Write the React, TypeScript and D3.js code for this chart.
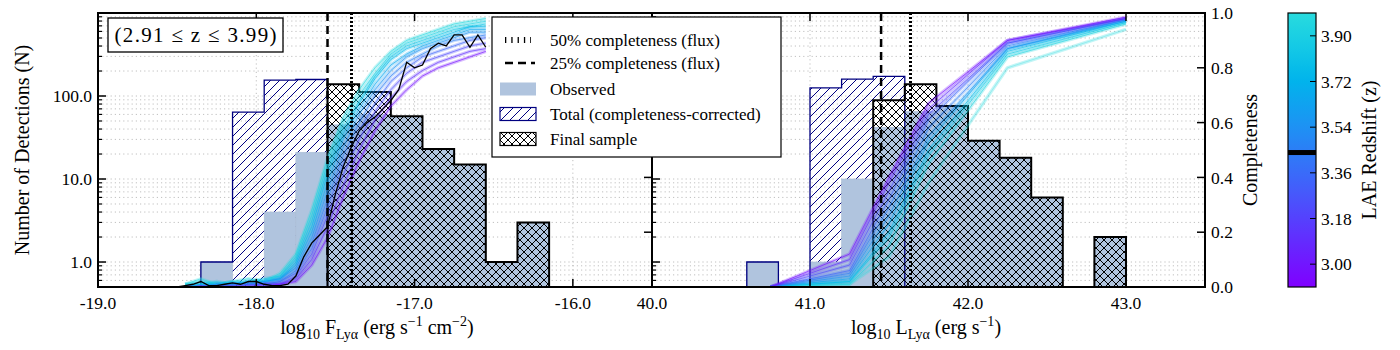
import React, { useEffect, useRef } from "react";
import * as d3 from "d3";

// histogram bins (left edges, width 0.2 dex)
const binWidth = 0.2;

// left panel: log10 Lya flux
const fluxBinStart = [-18.35, -18.15, -17.95, -17.75, -17.55, -17.35, -17.15, -16.95, -16.75, -16.55, -16.35];
const fluxObserved = [1, 0, 4, 21, 45, 60, 57, 23, 15, 1, 3];
const fluxTotalStart = -18.35;
const fluxTotal = [1, 64, 155, 158];
const fluxFinalStart = -17.55;
const fluxFinal = [139, 112, 57, 23, 15, 1, 3];

// right panel: log10 Lya luminosity
const lumBinStart = [40.6, 40.8, 41.0, 41.2, 41.4, 41.6, 41.8, 42.0, 42.2, 42.4, 42.6, 42.8];
const lumObserved = [1, 0, 1, 10, 42, 65, 76, 29, 18, 6, 0, 2];
const lumTotalStart = 40.6;
const lumTotal = [1, 0, 125, 160, 172];
const lumFinalStart = 41.4;
const lumFinal = [89, 139, 76, 29, 18, 6, 0, 2];

// completeness limits
const flux50 = -17.4;
const flux25 = -17.55;
const lum50 = 41.63;
const lum25 = 41.45;

// completeness curves vs flux, one per redshift
const fluxGrid = [-18.45, -18.35, -18.25, -18.15, -18.05, -17.95, -17.85, -17.75, -17.65, -17.55,
  -17.45, -17.35, -17.25, -17.15, -17.05, -16.95, -16.85, -16.75, -16.65, -16.55];
const fluxCurveZ = [3.97, 3.92, 3.84, 3.76, 3.66, 3.55, 3.45, 3.34, 3.22, 3.1, 2.98];
const fluxCurves = [
  [0.01, 0.03, 0.01, 0.02, 0.03, 0.02, 0.05, 0.12, 0.28, 0.47, 0.62, 0.72, 0.8, 0.86, 0.9, 0.92, 0.94, 0.96, 0.97, 0.98],
  [0.01, 0.02, 0.01, 0.01, 0.02, 0.02, 0.04, 0.11, 0.26, 0.45, 0.6, 0.7, 0.78, 0.85, 0.89, 0.91, 0.93, 0.95, 0.96, 0.97],
  [0.01, 0.01, 0.02, 0.01, 0.02, 0.03, 0.04, 0.1, 0.24, 0.43, 0.58, 0.68, 0.77, 0.84, 0.88, 0.9, 0.92, 0.94, 0.95, 0.96],
  [0.0, 0.01, 0.01, 0.02, 0.01, 0.02, 0.03, 0.09, 0.22, 0.41, 0.56, 0.67, 0.76, 0.83, 0.87, 0.89, 0.91, 0.93, 0.95, 0.95],
  [0.0, 0.01, 0.01, 0.01, 0.02, 0.02, 0.03, 0.08, 0.2, 0.38, 0.54, 0.65, 0.74, 0.81, 0.85, 0.88, 0.9, 0.92, 0.94, 0.94],
  [0.0, 0.0, 0.01, 0.01, 0.01, 0.02, 0.03, 0.07, 0.18, 0.35, 0.51, 0.63, 0.72, 0.79, 0.84, 0.87, 0.89, 0.91, 0.93, 0.93],
  [0.0, 0.0, 0.01, 0.01, 0.01, 0.01, 0.02, 0.06, 0.16, 0.32, 0.48, 0.6, 0.7, 0.77, 0.82, 0.85, 0.88, 0.9, 0.91, 0.92],
  [0.0, 0.0, 0.0, 0.01, 0.01, 0.01, 0.02, 0.05, 0.14, 0.29, 0.45, 0.57, 0.67, 0.75, 0.8, 0.84, 0.86, 0.88, 0.9, 0.91],
  [0.0, 0.0, 0.0, 0.0, 0.01, 0.01, 0.01, 0.04, 0.12, 0.26, 0.41, 0.54, 0.64, 0.72, 0.78, 0.82, 0.84, 0.86, 0.88, 0.89],
  [0.0, 0.0, 0.0, 0.0, 0.0, 0.01, 0.01, 0.03, 0.1, 0.22, 0.37, 0.5, 0.61, 0.69, 0.75, 0.79, 0.82, 0.84, 0.86, 0.87],
  [0.0, 0.0, 0.0, 0.0, 0.0, 0.0, 0.01, 0.02, 0.08, 0.18, 0.33, 0.46, 0.57, 0.66, 0.72, 0.77, 0.8, 0.82, 0.84, 0.86],
];

// black reference curve (left panel)
const medianGrid = [-18.5, -18.45, -18.4, -18.35, -18.3, -18.25, -18.2, -18.15, -18.1, -18.05,
  -18.0, -17.95, -17.9, -17.85, -17.8, -17.75, -17.7, -17.65, -17.6, -17.55,
  -17.5, -17.45, -17.4, -17.35, -17.3, -17.25, -17.2, -17.15, -17.1, -17.05,
  -17.0, -16.95, -16.9, -16.85, -16.8, -16.75, -16.7, -16.65, -16.6, -16.55];
const medianCurve = [0.0, 0.005, 0.01, 0.02, 0.005, 0.005, 0.01, 0.015, 0.01, 0.02,
  0.02, 0.01, 0.005, 0.005, 0.01, 0.04, 0.11, 0.16, 0.19, 0.22,
  0.34, 0.44, 0.51, 0.57, 0.6, 0.62, 0.65, 0.68, 0.72, 0.82,
  0.8, 0.81, 0.87, 0.89, 0.88, 0.92, 0.92, 0.875, 0.92, 0.875];

// completeness curves vs luminosity
const lumGrid = [40.75, 41.25, 41.5, 41.75, 42.25, 43.0];
const lumCurveZ = [3.99, 3.94, 3.86, 3.76, 3.66, 3.55, 3.45, 3.34, 3.22, 3.1, 2.98];
const lumCurves = [
  [0.0, 0.01, 0.11, 0.38, 0.8, 0.94],
  [0.0, 0.01, 0.15, 0.45, 0.84, 0.96],
  [0.0, 0.02, 0.18, 0.48, 0.85, 0.965],
  [0.0, 0.02, 0.2, 0.5, 0.86, 0.97],
  [0.0, 0.03, 0.23, 0.53, 0.87, 0.97],
  [0.0, 0.04, 0.26, 0.55, 0.87, 0.975],
  [0.0, 0.05, 0.29, 0.58, 0.88, 0.975],
  [0.0, 0.06, 0.32, 0.61, 0.89, 0.98],
  [0.0, 0.08, 0.35, 0.63, 0.89, 0.98],
  [0.0, 0.1, 0.38, 0.65, 0.9, 0.98],
  [0.0, 0.12, 0.4, 0.67, 0.9, 0.985],
];

// ticks
const countTicks = [1, 10, 100];
const compTicks = [0, 0.2, 0.4, 0.6, 0.8, 1.0];
const fluxTicks = [-19, -18, -17, -16];
const lumTicks = [40, 41, 42, 43];
const zTicks = [3.0, 3.18, 3.36, 3.54, 3.72, 3.9];
const zDomain = [2.91, 3.99];
const zMarker = 3.44;

const FONT = "'Liberation Serif', 'DejaVu Serif', serif";
const OBS = "#b0c4de";

// matplotlib "rainbow", lower third
function zColor(z: number) {
  const t = ((z - zDomain[0]) / (zDomain[1] - zDomain[0])) * 0.33;
  const r = Math.abs(2 * t - 0.5);
  const g = Math.sin(Math.PI * t);
  const b = Math.cos((Math.PI * t) / 2);
  return d3.rgb(r * 255, g * 255, b * 255).formatHex();
}

export default function App() {
  const svgRef = useRef<SVGSVGElement>(null);

  useEffect(() => {
    const margin = { top: 13, bottom: 63, left: 98 };
    const width = 1400;
    const height = 350;
    const plotBottom = height - margin.bottom;
    const midX = 652;
    const rightX = 1205;

    const svg = d3.select(svgRef.current).attr("width", width).attr("height", height);
    svg.selectAll("*").remove();
    svg.append("rect").attr("width", width).attr("height", height).attr("fill", "white");

    const defs = svg.append("defs");
    const hatch = defs.append("pattern").attr("id", "hatchTotal")
      .attr("patternUnits", "userSpaceOnUse").attr("width", 9).attr("height", 9);
    hatch.append("path").attr("d", "M0,9 L9,0 M-2,2 L2,-2 M7,11 L11,7")
      .attr("stroke", "navy").attr("stroke-width", 1);
    const cross = defs.append("pattern").attr("id", "crossFinal")
      .attr("patternUnits", "userSpaceOnUse").attr("width", 8).attr("height", 8);
    cross.append("path").attr("d", "M0,0 L8,8 M8,0 L0,8")
      .attr("stroke", "black").attr("stroke-width", 1);

    const yCount = d3.scaleLog().domain([0.5, 1000]).range([plotBottom, margin.top]);
    const yComp = d3.scaleLinear().domain([0, 1]).range([plotBottom, margin.top]);
    const xFlux = d3.scaleLinear().domain([-19, -15.5]).range([margin.left, midX]);
    const xLum = d3.scaleLinear().domain([40, 43.5]).range([midX, rightX]);

    const yOf = (v: number) => (v > 0 ? yCount(v) : plotBottom);

    const stepPath = (x: d3.ScaleLinear<number, number>, start: number, vals: number[]) => {
      let d = `M${x(start)},${plotBottom}`;
      vals.forEach((v, i) => {
        const a = start + i * binWidth;
        d += `L${x(a)},${yOf(v)}L${x(a + binWidth)},${yOf(v)}`;
      });
      d += `L${x(start + vals.length * binWidth)},${plotBottom}`;
      return d;
    };

    const minorCounts: number[] = [];
    [0.1, 1, 10, 100].forEach((dec) => {
      for (let k = 2; k <= 9; k++) if (k * dec >= 0.5) minorCounts.push(k * dec);
    });

    const drawPanel = (
      id: string,
      x: d3.ScaleLinear<number, number>,
      xTicks: number[],
      observed: number[],
      binStart: number[],
      totalStart: number,
      total: number[],
      finalStart: number,
      final: number[],
      grid: number[],
      curves: number[][],
      curveZ: number[],
      lim50: number,
      lim25: number,
      withMedian: boolean
    ) => {
      const [x0, x1] = x.range();
      defs.append("clipPath").attr("id", id).append("rect")
        .attr("x", x0).attr("y", margin.top).attr("width", x1 - x0).attr("height", plotBottom - margin.top);
      const g = svg.append("g").attr("clip-path", `url(#${id})`);

      // dotted grid
      g.append("g").selectAll("line").data([...countTicks, ...minorCounts]).join("line")
        .attr("x1", x0).attr("x2", x1).attr("y1", (d) => yCount(d)).attr("y2", (d) => yCount(d))
        .attr("stroke", "#b0b0b0").attr("stroke-width", 0.8).attr("stroke-dasharray", "1.2,3");
      g.append("g").selectAll("line").data(xTicks).join("line")
        .attr("x1", (d) => x(d)).attr("x2", (d) => x(d)).attr("y1", margin.top).attr("y2", plotBottom)
        .attr("stroke", "#b0b0b0").attr("stroke-width", 0.8).attr("stroke-dasharray", "1.2,3");

      // total (completeness-corrected)
      g.append("path").attr("d", stepPath(x, totalStart, total) + "Z").attr("fill", "url(#hatchTotal)");
      // final sample background
      g.append("path").attr("d", stepPath(x, finalStart, final) + "Z").attr("fill", "white");
      // observed
      g.append("g").selectAll("rect").data(observed).join("rect")
        .attr("x", (d, i) => x(binStart[i]))
        .attr("width", (d, i) => x(binStart[i] + binWidth) - x(binStart[i]))
        .attr("y", (d) => yOf(d))
        .attr("height", (d) => plotBottom - yOf(d))
        .attr("fill", OBS).attr("stroke", "#a9bcd4").attr("stroke-width", 0.6);
      g.append("path").attr("d", stepPath(x, totalStart, total))
        .attr("fill", "none").attr("stroke", "navy").attr("stroke-width", 1.3);
      // final sample
      g.append("path").attr("d", stepPath(x, finalStart, final) + "Z").attr("fill", "url(#crossFinal)");
      g.append("path").attr("d", stepPath(x, finalStart, final))
        .attr("fill", "none").attr("stroke", "black").attr("stroke-width", 2);

      // completeness curves
      const line = d3.line<number>().x((d, i) => x(grid[i])).y((d) => yComp(d));
      curves.forEach((c, k) => {
        g.append("path").attr("d", line(c)).attr("fill", "none")
          .attr("stroke", zColor(curveZ[k])).attr("stroke-width", 3.5).attr("stroke-opacity", 0.28)
          .attr("stroke-linejoin", "round");
      });
      curves.forEach((c, k) => {
        g.append("path").attr("d", line(c)).attr("fill", "none")
          .attr("stroke", zColor(curveZ[k])).attr("stroke-width", 0.9)
          .attr("stroke-opacity", k === 0 && !withMedian ? 0.35 : 0.7);
      });
      if (withMedian) {
        const mline = d3.line<number>().x((d, i) => xFlux(medianGrid[i])).y((d) => yComp(d));
        g.append("path").attr("d", mline(medianCurve)).attr("fill", "none")
          .attr("stroke", "black").attr("stroke-width", 1.3);
      }

      // completeness limits (snapped to the pixel grid so the dots stay crisp)
      const x50 = Math.round(x(lim50)) + 0.5;
      g.append("line").attr("x1", x50).attr("x2", x50).attr("y1", margin.top).attr("y2", plotBottom)
        .attr("stroke", "black").attr("stroke-width", 3).attr("stroke-dasharray", "2,2");
      g.append("line").attr("x1", x(lim25)).attr("x2", x(lim25)).attr("y1", margin.top).attr("y2", plotBottom)
        .attr("stroke", "black").attr("stroke-width", 2.5).attr("stroke-dasharray", "8,5");

      // ticks
      const t = svg.append("g").attr("stroke", "black");
      t.selectAll(".xb").data(xTicks).join("line")
        .attr("x1", (d) => x(d)).attr("x2", (d) => x(d)).attr("y1", plotBottom).attr("y2", plotBottom - 8).attr("stroke-width", 1.5);
      t.selectAll(".xt").data(xTicks).join("line").attr("class", "xt")
        .attr("x1", (d) => x(d)).attr("x2", (d) => x(d)).attr("y1", margin.top).attr("y2", margin.top + 8).attr("stroke-width", 1.5);
      t.selectAll(".ym").data(countTicks).join("line").attr("class", "ym")
        .attr("x1", x0).attr("x2", x0 + 8).attr("y1", (d) => yCount(d)).attr("y2", (d) => yCount(d)).attr("stroke-width", 1.5);
      t.selectAll(".yn").data(minorCounts).join("line").attr("class", "yn")
        .attr("x1", x0).attr("x2", x0 + 4).attr("y1", (d) => yCount(d)).attr("y2", (d) => yCount(d)).attr("stroke-width", 1.2);
      t.selectAll(".yc").data(compTicks).join("line").attr("class", "yc")
        .attr("x1", x1).attr("x2", x1 - 8).attr("y1", (d) => yComp(d)).attr("y2", (d) => yComp(d)).attr("stroke-width", 1.5);

      svg.append("g").selectAll("text").data(xTicks).join("text")
        .attr("x", (d) => x(d)).attr("y", plotBottom + 22).attr("text-anchor", "middle")
        .attr("font-family", FONT).attr("font-size", 17.5).text((d) => d.toFixed(1));

      svg.append("rect").attr("x", x0).attr("y", margin.top).attr("width", x1 - x0)
        .attr("height", plotBottom - margin.top).attr("fill", "none").attr("stroke", "black").attr("stroke-width", 2);
    };

    drawPanel("clipFlux", xFlux, fluxTicks, fluxObserved, fluxBinStart, fluxTotalStart, fluxTotal,
      fluxFinalStart, fluxFinal, fluxGrid, fluxCurves, fluxCurveZ, flux50, flux25, true);
    drawPanel("clipLum", xLum, lumTicks, lumObserved, lumBinStart, lumTotalStart, lumTotal,
      lumFinalStart, lumFinal, lumGrid, lumCurves, lumCurveZ, lum50, lum25, false);

    // left y labels
    svg.append("g").selectAll("text").data(countTicks).join("text")
      .attr("x", margin.left - 6).attr("y", (d) => yCount(d)).attr("dy", "0.35em").attr("text-anchor", "end")
      .attr("font-family", FONT).attr("font-size", 17.5).text((d) => d.toFixed(1));
    // right y labels
    svg.append("g").selectAll("text").data(compTicks).join("text")
      .attr("x", rightX + 6).attr("y", (d) => yComp(d)).attr("dy", "0.35em")
      .attr("font-family", FONT).attr("font-size", 17.5).text((d) => d.toFixed(1));

    svg.append("text").attr("transform", `translate(29,${(margin.top + plotBottom) / 2}) rotate(-90)`)
      .attr("text-anchor", "middle").attr("font-family", FONT).attr("font-size", 20)
      .text("Number of Detections (N)");
    svg.append("text").attr("transform", `translate(1257,${(margin.top + plotBottom) / 2}) rotate(-90)`)
      .attr("text-anchor", "middle").attr("font-family", FONT).attr("font-size", 20)
      .text("Completeness");

    const richLabel = (cx: number, parts: [string, string][]) => {
      const txt = svg.append("text").attr("x", cx).attr("y", 334).attr("text-anchor", "middle")
        .attr("font-family", FONT).attr("font-size", 20);
      let shift = 0;
      parts.forEach(([kind, s]) => {
        const target = kind === "sub" ? 5 : kind === "sup" ? -8 : 0;
        const ts = txt.append("tspan").attr("dy", target - shift).text(s);
        if (kind !== "n") ts.attr("font-size", 14);
        shift = target;
      });
    };
    richLabel(377, [["n", "log"], ["sub", "10"], ["n", " F"], ["sub", "Ly\u03b1"], ["n", " (erg s"], ["sup", "\u22121"], ["n", " cm"], ["sup", "\u22122"], ["n", ")"]]);
    richLabel(926, [["n", "log"], ["sub", "10"], ["n", " L"], ["sub", "Ly\u03b1"], ["n", " (erg s"], ["sup", "\u22121"], ["n", ")"]]);

    // redshift box
    svg.append("rect").attr("x", 108).attr("y", 18).attr("width", 175).attr("height", 34)
      .attr("fill", "white").attr("stroke", "black").attr("stroke-width", 1.3);
    svg.append("text").attr("x", 195.5).attr("y", 42).attr("text-anchor", "middle")
      .attr("font-family", FONT).attr("font-size", 21).attr("textLength", 162).attr("lengthAdjust", "spacing")
      .text("(2.91 \u2264 z \u2264 3.99)");

    // legend
    const lg = svg.append("g");
    lg.append("rect").attr("x", 492).attr("y", 17).attr("width", 289).attr("height", 140)
      .attr("fill", "white").attr("stroke", "black").attr("stroke-width", 1.2);
    const rows = [40, 63, 89, 114, 139];
    const labels = ["50% completeness (flux)", "25% completeness (flux)", "Observed", "Total (completeness-corrected)", "Final sample"];
    lg.append("line").attr("x1", 505).attr("x2", 531).attr("y1", rows[0]).attr("y2", rows[0])
      .attr("stroke", "black").attr("stroke-width", 6).attr("stroke-dasharray", "1.3,5");
    lg.append("line").attr("x1", 505).attr("x2", 535).attr("y1", rows[1]).attr("y2", rows[1])
      .attr("stroke", "black").attr("stroke-width", 2.5).attr("stroke-dasharray", "8,5");
    lg.append("rect").attr("x", 500).attr("y", rows[2] - 6.5).attr("width", 36).attr("height", 13).attr("fill", OBS);
    lg.append("rect").attr("x", 500).attr("y", rows[3] - 6.5).attr("width", 36).attr("height", 13)
      .attr("fill", "url(#hatchTotal)").attr("stroke", "navy").attr("stroke-width", 1.2);
    lg.append("rect").attr("x", 500).attr("y", rows[4] - 6.5).attr("width", 36).attr("height", 13)
      .attr("fill", "url(#crossFinal)").attr("stroke", "black").attr("stroke-width", 1.2);
    lg.selectAll("text").data(labels).join("text")
      .attr("x", 550).attr("y", (d, i) => rows[i]).attr("dy", "0.35em")
      .attr("font-family", FONT).attr("font-size", 17).text((d) => d);

    // colorbar
    const cbX = 1288;
    const cbW = 28;
    const zScale = d3.scaleLinear().domain(zDomain).range([plotBottom, margin.top]);
    const grad = defs.append("linearGradient").attr("id", "zGrad").attr("x1", 0).attr("x2", 0).attr("y1", 1).attr("y2", 0);
    d3.range(0, 1.0001, 0.05).forEach((f) => {
      grad.append("stop").attr("offset", f).attr("stop-color", zColor(zDomain[0] + f * (zDomain[1] - zDomain[0])));
    });
    svg.append("rect").attr("x", cbX).attr("y", margin.top).attr("width", cbW).attr("height", plotBottom - margin.top)
      .attr("fill", "url(#zGrad)");
    svg.append("rect").attr("x", cbX).attr("y", zScale(zMarker) - 2.5).attr("width", cbW).attr("height", 5).attr("fill", "black");
    svg.append("rect").attr("x", cbX).attr("y", margin.top).attr("width", cbW).attr("height", plotBottom - margin.top)
      .attr("fill", "none").attr("stroke", "black").attr("stroke-width", 1.2);
    svg.append("g").selectAll("line").data(zTicks).join("line")
      .attr("x1", cbX + cbW).attr("x2", cbX + cbW - 6).attr("y1", (d) => zScale(d)).attr("y2", (d) => zScale(d))
      .attr("stroke", "black").attr("stroke-width", 1);
    svg.append("g").selectAll("text").data(zTicks).join("text")
      .attr("x", cbX + cbW + 5).attr("y", (d) => zScale(d)).attr("dy", "0.35em")
      .attr("font-family", FONT).attr("font-size", 17.5).text((d) => d.toFixed(2));
    svg.append("text").attr("transform", `translate(1376,${(margin.top + plotBottom) / 2}) rotate(-90)`)
      .attr("text-anchor", "middle").attr("font-family", FONT).attr("font-size", 20)
      .text("LAE Redshift (z)");
  }, []);

  return (
    <div style={{ position: "absolute", left: 0, top: 0 }}>
      <svg ref={svgRef} style={{ display: "block" }}></svg>
    </div>
  );
}
